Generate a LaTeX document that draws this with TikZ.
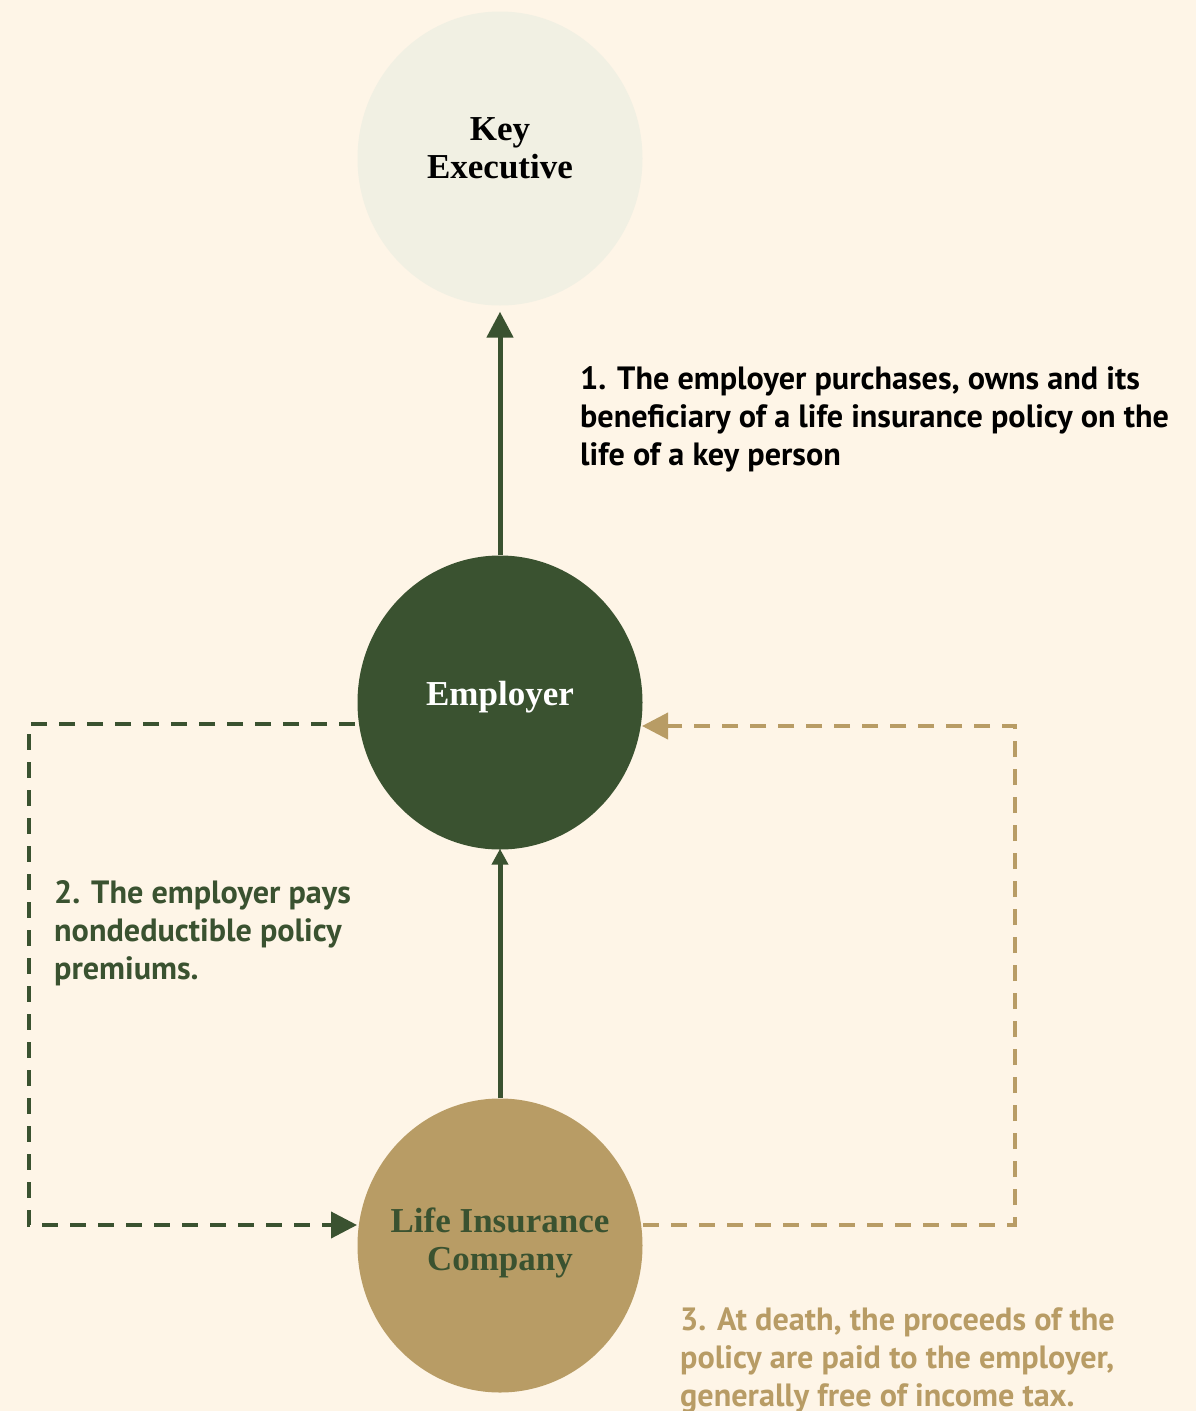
\documentclass[tikz,border=0pt]{standalone}
\usepackage{fontspec}
\setmainfont{Liberation Serif}
\newfontfamily\labelfont{PT Sans}
\usetikzlibrary{arrows.meta,shapes.geometric}
\definecolor{bg}{HTML}{FEF5E7}
\definecolor{kefill}{HTML}{F1F0E3}
\definecolor{darkgreen}{HTML}{3A5230}
\definecolor{tan}{HTML}{B89C65}
\begin{document}
\begin{tikzpicture}[x=1pt,y=-1pt,
  circ/.style={ellipse,minimum width=285pt,minimum height=294pt,inner sep=0pt},
  ctext/.style={inner sep=0pt,align=center,font=\fontsize{35}{38}\selectfont\bfseries},
  lbl/.style={anchor=north west,inner sep=0pt,align=left,
    font=\labelfont\fontsize{32.2}{38}\selectfont\bfseries},
  solidarrow/.style={draw=darkgreen,line width=5pt},
  dashline/.style={line width=4pt,dash pattern=on 16pt off 12pt}
]
\fill[bg] (0,0) rectangle (1196,1411);
\useasboundingbox (0,0) rectangle (1196,1411);

\node[circ,fill=kefill] (ke) at (500,158.5) {};
\node[circ,fill=darkgreen] (emp) at (500,702.5) {};
\node[circ,fill=tan] (lic) at (500,1245.5) {};
\node[ctext,text=black] (ketext) at ([yshift=10pt]ke.center) {Key\\Executive};
\node[ctext,text=white] (emptext) at ([yshift=5pt]emp.center) {Employer};
\node[ctext,text=darkgreen] (lictext) at ([yshift=3pt]lic.center) {Life Insurance\\Company};

\draw[solidarrow,-{Triangle[width=26pt,length=26pt]},shorten >=6pt] (emp.north) -- (ke.south);
\draw[solidarrow,-{Triangle[width=16pt,length=16pt]},shorten >=-1pt] (lic.north) -- (emp.south);

\coordinate (l1) at (355,724);
\coordinate (l2) at (29,724);
\coordinate (l3) at (29,1225);
\coordinate (l4) at (357,1225);
\draw[darkgreen,dashline,-{Triangle[width=26pt,length=26pt]}] (l1) -- (l2) -- (l3) -- (l4);

\coordinate (r1) at (643,1225);
\coordinate (r2) at (1015,1225);
\coordinate (r3) at (1015,726);
\coordinate (r4) at (642,726);
\draw[tan,dashline,-{Triangle[width=26pt,length=26pt]}] (r1) -- (r2) -- (r3) -- (r4);

\node[lbl,text=black] (t1) at (580,366) {1. The employer purchases, owns and its\\beneficiary of a life insurance policy on the\\life of a key person};
\node[lbl,text=darkgreen] (t2) at (54,880) {2. The employer pays\\nondeductible policy\\premiums.};
\node[lbl,text=tan] (t3) at (680,1307) {3. At death, the proceeds of the\\policy are paid to the employer,\\generally free of income tax.};
\end{tikzpicture}
\end{document}
